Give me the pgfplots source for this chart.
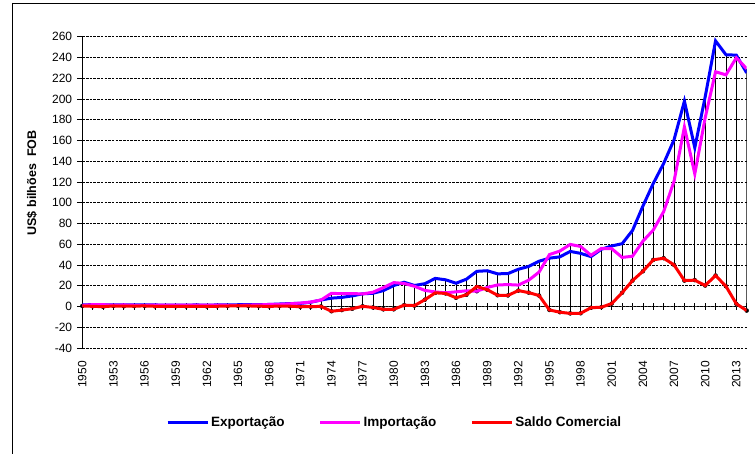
\documentclass[border=0pt]{standalone}
\usepackage{pgfplots}
\pgfplotsset{compat=1.18}
\usepackage{pgfplotstable}
\usepackage{fontspec}
\setmainfont{Liberation Sans}

\definecolor{expo}{RGB}{0,0,255}
\definecolor{impo}{RGB}{255,0,255}
\definecolor{saldo}{RGB}{255,0,0}

% US$ bilhoes FOB: exportacao, importacao, saldo comercial
\pgfplotstableread{
year exp imp sal
1950 1.36 0.93 0.43
1951 1.77 1.70 0.07
1952 1.42 1.70 -0.28
1953 1.54 1.12 0.42
1954 1.56 1.41 0.15
1955 1.42 1.10 0.32
1956 1.48 1.05 0.43
1957 1.39 1.29 0.10
1958 1.24 1.18 0.06
1959 1.28 1.21 0.07
1960 1.27 1.29 -0.02
1961 1.40 1.29 0.11
1962 1.21 1.30 -0.09
1963 1.41 1.29 0.12
1964 1.43 1.09 0.34
1965 1.60 0.94 0.66
1966 1.74 1.30 0.44
1967 1.65 1.44 0.21
1968 1.88 1.86 0.02
1969 2.31 2.00 0.31
1970 2.74 2.51 0.23
1971 2.90 3.25 -0.35
1972 3.99 4.23 -0.24
1973 6.20 6.19 0.01
1974 7.95 12.64 -4.69
1975 8.67 12.21 -3.54
1976 10.13 12.38 -2.25
1977 12.12 12.02 0.10
1978 12.66 13.68 -1.02
1979 15.24 18.08 -2.84
1980 20.13 22.95 -2.82
1981 23.29 22.09 1.20
1982 20.18 19.40 0.78
1983 21.90 15.43 6.47
1984 27.01 13.92 13.09
1985 25.64 13.15 12.49
1986 22.35 14.04 8.31
1987 26.22 15.05 11.17
1988 33.79 14.61 19.18
1989 34.38 18.26 16.12
1990 31.41 20.66 10.75
1991 31.62 21.04 10.58
1992 35.79 20.55 15.24
1993 38.55 25.26 13.29
1994 43.55 33.08 10.47
1995 46.51 49.97 -3.46
1996 47.75 53.35 -5.60
1997 53.00 59.75 -6.75
1998 51.14 57.76 -6.62
1999 48.01 49.30 -1.29
2000 55.09 55.85 -0.76
2001 58.29 55.60 2.69
2002 60.44 47.24 13.20
2003 73.20 48.33 24.87
2004 96.68 62.84 33.84
2005 118.50 73.60 44.90
2006 137.80 91.35 46.45
2007 160.60 120.60 40.00
2008 197.90 173.00 24.90
2009 153.00 127.70 25.30
2010 201.90 181.80 20.10
2011 256.00 226.20 29.80
2012 242.60 223.20 19.40
2013 242.20 239.70 2.50
2014 225.10 229.10 -4.00
}\datatable

\begin{document}
\begin{tikzpicture}[x=1pt,y=1pt]
\useasboundingbox (0,0) rectangle (755,454);
% chart area border (partly visible)
\draw[line width=0.8pt] (12.5,451) -- (755,451);
\draw[line width=0.8pt] (12.5,451) -- (12.5,0);

% background axis: category axis crossing at zero, high-low lines
\begin{axis}[
  at={(82.3pt,106.1pt)}, anchor=south west,
  scale only axis, width=664.4pt, height=311.2pt,
  xmin=1950, xmax=2014, ymin=-40, ymax=260,
  axis x line=middle, axis y line=none,
  axis line style={-, black!75, line width=0.8pt},
  xtick={1950,1951,...,2014}, xticklabels={},
  tick align=center, major tick length=7pt,
  xtick style={black, line width=0.7pt},
]
\addplot[only marks, mark=none,
  error bars/.cd, y dir=plus, y explicit, error mark=none,
  error bar style={draw=black, solid, line width=0.7pt}]
  table[x=year,
    y expr={min(\thisrow{exp},\thisrow{imp},\thisrow{sal})},
    y error expr={max(\thisrow{exp},\thisrow{imp},\thisrow{sal})-min(\thisrow{exp},\thisrow{imp},\thisrow{sal})}]
  {\datatable};
\end{axis}

\begin{axis}[
  at={(82.3pt,106.1pt)}, anchor=south west,
  scale only axis, width=664.4pt, height=311.2pt,
  xmin=1950, xmax=2014, ymin=-40, ymax=260,
  enlargelimits=false,
  axis y line*=left, axis x line*=bottom,
  x axis line style={draw=none},
  y axis line style={-, black, line width=0.8pt},
  ytick={-40,-20,...,260},
  xtick={1950,1953,...,2013},
  xtick style={draw=none},
  ytick style={black, line width=0.7pt},
  tick align=outside, major tick length=5pt,
  ymajorgrids,
  major grid style={black, dash pattern=on 2.5pt off 1.2pt, line width=0.6pt},
  /pgf/number format/.cd, 1000 sep={}, assume math mode=true, /pgfplots/.cd,
  tick label style={font=\fontsize{12}{14}\selectfont},
  xticklabel style={rotate=90, anchor=east, inner sep=0pt},
  xticklabel shift=8pt,
  yticklabel style={inner sep=0pt},
  yticklabel shift=5pt,
  ylabel={US\$ bilhões\ \ FOB},
  ylabel style={at={(axis description cs:-0.0757,0.53)}, anchor=center,
    font=\fontsize{12.5}{14}\selectfont\bfseries},
  legend style={at={(axis description cs:0.47,-0.24)}, anchor=center,
    draw=none, fill=none, legend columns=3,
    font=\fontsize{13.5}{15}\selectfont\bfseries,
    /tikz/every even column/.append style={column sep=32pt}},
  legend image code/.code={\draw[#1, line width=3pt] (0pt,0pt) -- (40pt,0pt);},
]
\addplot[expo, line width=3pt, mark=none] table[x=year, y=exp] {\datatable};
\addlegendentry{Exportação}
\addplot[impo, line width=3pt, mark=none] table[x=year, y=imp] {\datatable};
\addlegendentry{Importação}
\addplot[saldo, line width=3pt, mark=none] table[x=year, y=sal] {\datatable};
\addlegendentry{Saldo Comercial}
\end{axis}
\end{tikzpicture}
\end{document}
